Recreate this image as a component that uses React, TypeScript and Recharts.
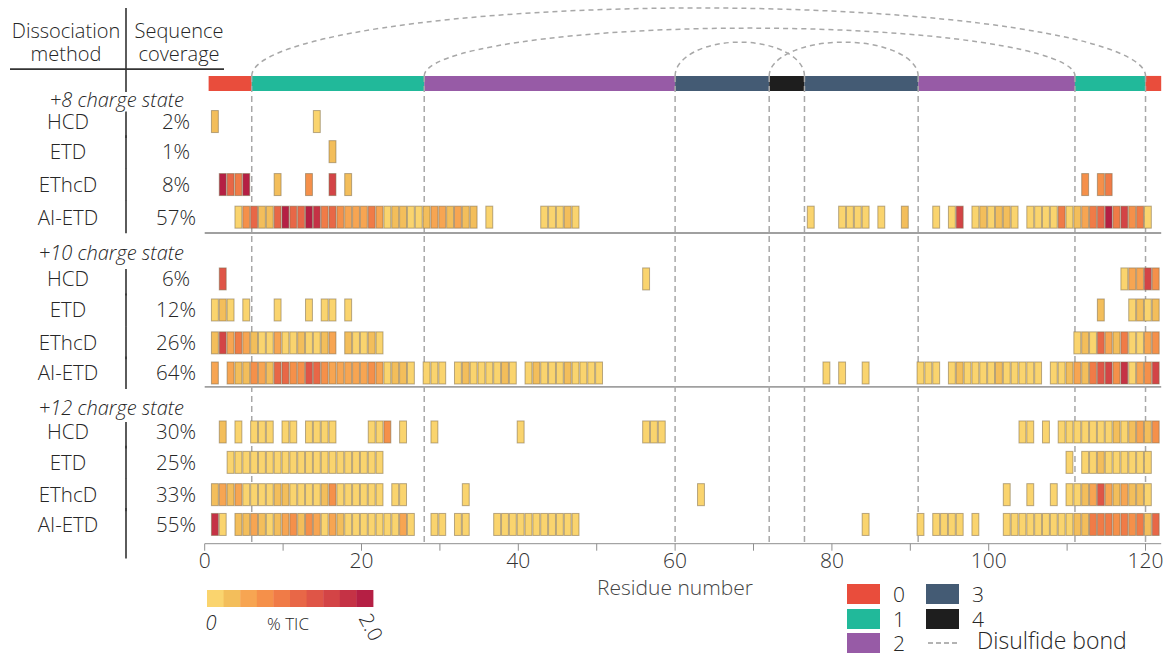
import React from 'react';
import { ComposedChart, XAxis, YAxis, Scatter, ReferenceLine, ReferenceArea, Legend } from 'recharts';

const FONT = '"Open Sans", "Noto Sans", sans-serif';
const INK = '#262626';
const WEIGHT = 300;

// %TIC colour steps, 0 -> 2.0
const HEAT = ['#FAD46E', '#F3BE5B', '#F7A552', '#F5904A', '#F07B47', '#E86747', '#DF5547', '#D34446', '#C53245', '#B51F44'];
const TIC_MAX = 2.0;

// disulfide-bond regions along the sequence (number of bonds 0-4)
const REGION_COLORS = ['#E94D3C', '#21B99A', '#975BA6', '#445B74', '#1E1E1E'];
const regions: [number, number, number][] = [
  [0.5, 6, 0], [6, 28, 1], [28, 60, 2], [60, 72, 3], [72, 76.5, 4],
  [76.5, 91, 3], [91, 111, 2], [111, 120, 1], [120, 122, 0],
];
const cysteines = [6, 28, 60, 72, 76.5, 91, 111, 120];
const bonds: [number, number][] = [[6, 120], [28, 111], [60, 76.5], [72, 91]];

const methods = ['HCD', 'ETD', 'EThcD', 'AI-ETD'];
const chargeStates = ['+8', '+10', '+12'];
const coverage = [
  ['2%', '1%', '8%', '57%'],
  ['6%', '12%', '26%', '64%'],
  ['30%', '25%', '33%', '55%'],
];
const xTicks = [0, 10, 20, 30, 40, 50, 60, 70, 80, 90, 100, 110, 120];

// fragments: [residue, %TIC]
const hcd8: [number, number][] = [[1, 0.3], [14, 0.1]];
const etd8: [number, number][] = [[16, 0.3]];
const ethcd8: [number, number][] = [[2, 1.9], [3, 1.1], [4, 0.9], [5, 1.9], [9, 0.3], [13, 0.7], [16, 1.5], [18, 0.3], [112, 0.7], [114, 0.7], [115, 0.9]];
const aietd8: [number, number][] = [
  [4, 0.1], [5, 0.7], [6, 1.1], [7, 0.3], [8, 0.3], [9, 1.1], [10, 1.9], [11, 1.1], [12, 1.1], [13, 1.9], [14, 1.7], [15, 0.9],
  [16, 1.1], [17, 0.7], [18, 0.5], [19, 0.5], [20, 0.5], [21, 0.9], [22, 0.5], [23, 0.1], [24, 0.3], [25, 0.3], [26, 0.1],
  [27, 0.1], [28, 0.3], [29, 0.5], [30, 0.5], [31, 0.3], [32, 0.5], [33, 0.3], [34, 0.3], [36, 0.1], [43, 0.1], [44, 0.1],
  [45, 0.1], [46, 0.3], [47, 0.1], [77, 0.1], [81, 0.1], [82, 0.1], [83, 0.1], [84, 0.1], [86, 0.1], [89, 0.3], [93, 0.1],
  [95, 0.1], [96, 1.5], [98, 0.1], [99, 0.3], [100, 0.1], [101, 0.3], [102, 0.3], [103, 0.1], [105, 0.1], [106, 0.1],
  [107, 0.1], [108, 0.1], [109, 0.9], [110, 0.1], [111, 0.3], [112, 0.5], [113, 0.9], [114, 1.1], [115, 1.9], [116, 0.9],
  [117, 1.5], [118, 0.7], [119, 0.9], [120, 0.1],
];
const hcd10: [number, number][] = [[2, 1.3], [56, 0.1], [117, 0.1], [118, 0.5], [119, 0.5], [120, 1.5], [121, 0.7]];
const etd10: [number, number][] = [
  [1, 0.1], [2, 0.3], [3, 0.1], [5, 0.1], [9, 0.1], [13, 0.1], [15, 0.1], [16, 0.1], [18, 0.1],
  [114, 0.3], [118, 0.1], [119, 0.3], [120, 0.1], [121, 0.3],
];
const ethcd10: [number, number][] = [
  [1, 0.3], [2, 1.5], [3, 0.5], [4, 0.9], [5, 0.5], [6, 0.3], [7, 0.1], [8, 0.1], [9, 0.5], [10, 0.1], [11, 0.1], [12, 0.3],
  [13, 0.1], [14, 0.1], [15, 0.3], [16, 0.5], [18, 0.3], [19, 0.1], [20, 0.1], [21, 0.3], [22, 0.1], [111, 0.1], [112, 0.3],
  [113, 0.1], [114, 1.1], [115, 0.5], [116, 0.3], [117, 0.9], [118, 0.1], [119, 0.1], [120, 0.5], [121, 0.7],
];
const aietd10: [number, number][] = [
  [1, 0.5], [3, 0.5], [4, 0.3], [5, 0.3], [6, 0.7], [7, 0.5], [8, 0.3], [9, 1.1], [10, 1.1], [11, 0.7], [12, 0.7], [13, 1.3],
  [14, 1.1], [15, 0.7], [16, 0.5], [17, 0.5], [18, 0.5], [19, 0.5], [20, 0.5], [21, 0.7], [22, 0.5], [23, 0.1], [24, 0.3],
  [25, 0.3], [26, 0.1], [28, 0.1], [29, 0.1], [30, 0.1], [32, 0.1], [33, 0.3], [34, 0.1], [35, 0.1], [36, 0.1], [37, 0.1],
  [38, 0.3], [39, 0.1], [41, 0.1], [42, 0.3], [43, 0.1], [44, 0.1], [45, 0.1], [46, 0.3], [47, 0.1], [48, 0.1], [49, 0.1],
  [50, 0.1], [79, 0.1], [81, 0.1], [84, 0.1], [91, 0.1], [92, 0.1], [93, 0.1], [95, 0.1], [96, 0.3], [97, 0.1], [98, 0.1],
  [99, 0.1], [100, 0.1], [101, 0.3], [102, 0.1], [103, 0.1], [104, 0.1], [105, 0.1], [106, 0.1], [108, 0.1], [109, 0.1],
  [110, 0.3], [111, 0.5], [112, 0.3], [113, 0.9], [114, 1.3], [115, 1.5], [116, 0.7], [117, 1.7], [118, 0.1], [119, 0.5],
  [120, 0.7], [121, 1.5],
];
const hcd12: [number, number][] = [
  [2, 0.3], [4, 0.1], [6, 0.1], [7, 0.1], [8, 0.1], [10, 0.1], [11, 0.1], [13, 0.1], [14, 0.1], [15, 0.1], [16, 0.1],
  [21, 0.1], [22, 0.1], [23, 0.7], [25, 0.1], [29, 0.1], [40, 0.1], [56, 0.1], [57, 0.1], [58, 0.1], [104, 0.1], [105, 0.1],
  [107, 0.1], [109, 0.1], [110, 0.1], [111, 0.1], [112, 0.1], [113, 0.1], [114, 0.1], [115, 0.1], [116, 0.3], [117, 0.1],
  [118, 0.3], [119, 0.5], [120, 0.3], [121, 0.7],
];
const etd12: [number, number][] = [
  [3, 0.1], [4, 0.1], [5, 0.1], [6, 0.1], [7, 0.1], [8, 0.1], [9, 0.1], [10, 0.1], [11, 0.1], [12, 0.1], [13, 0.1], [14, 0.1],
  [15, 0.1], [16, 0.1], [17, 0.1], [18, 0.1], [19, 0.1], [20, 0.1], [21, 0.1], [22, 0.1], [110, 0.1], [112, 0.1], [113, 0.1],
  [114, 0.3], [115, 0.1], [116, 0.1], [117, 0.1], [118, 0.1], [119, 0.1], [120, 0.1],
];
const ethcd12: [number, number][] = [
  [1, 0.3], [2, 0.5], [3, 0.3], [4, 0.5], [5, 0.1], [6, 0.1], [7, 0.1], [8, 0.1], [9, 0.3], [10, 0.3], [11, 0.1], [12, 0.1],
  [13, 0.1], [14, 0.1], [15, 0.3], [16, 0.7], [17, 0.1], [18, 0.1], [19, 0.1], [20, 0.1], [21, 0.1], [22, 0.1], [24, 0.1],
  [25, 0.1], [33, 0.1], [63, 0.1], [102, 0.1], [105, 0.1], [108, 0.1], [110, 0.1], [111, 0.1], [112, 0.3], [113, 0.5],
  [114, 1.3], [115, 0.5], [116, 0.3], [117, 0.5], [118, 0.3], [119, 0.3], [120, 0.1],
];
const aietd12: [number, number][] = [
  [1, 1.7], [2, 0.1], [4, 0.3], [5, 0.3], [6, 0.5], [7, 0.3], [8, 0.1], [9, 0.3], [10, 0.5], [11, 0.7], [12, 0.3], [13, 0.7],
  [14, 0.5], [15, 0.1], [16, 0.5], [17, 0.3], [18, 0.1], [19, 0.1], [20, 0.1], [21, 0.1], [22, 0.1], [23, 0.1], [24, 0.1],
  [25, 0.5], [26, 0.1], [29, 0.1], [30, 0.1], [32, 0.1], [33, 0.1], [37, 0.1], [38, 0.1], [39, 0.1], [40, 0.1], [41, 0.1],
  [42, 0.1], [43, 0.1], [44, 0.1], [45, 0.1], [46, 0.1], [47, 0.1], [84, 0.1], [91, 0.1], [93, 0.1], [94, 0.1], [95, 0.1],
  [96, 0.1], [98, 0.1], [102, 0.1], [103, 0.1], [104, 0.1], [105, 0.1], [106, 0.1], [107, 0.1], [108, 0.1], [109, 0.1],
  [110, 0.1], [111, 0.3], [112, 0.3], [113, 0.9], [114, 0.9], [115, 0.9], [116, 0.7], [117, 0.9], [118, 0.7], [119, 0.9],
  [120, 0.3], [121, 1.1],
];
const fragments = [
  [hcd8, etd8, ethcd8, aietd8],
  [hcd10, etd10, ethcd10, aietd10],
  [hcd12, etd12, ethcd12, aietd12],
];

// layout of the rows on the y axis (row units, top to bottom)
const ROW_Y = [[1, 1.97, 3.03, 4.08], [6.07, 7.07, 8.13, 9.1], [11, 11.98, 13.02, 13.98]];
const HEADER_Y = [0.31, 5.24, 10.23];
const SEP_Y = [4.59, 9.55];
const TABLE_HEAD_Y = -1.56;
const BAR_Y: [number, number] = [-0.47, 0.015];
const ARC_PEAK = [-2.66, -2.01, -1.56, -1.56];
const Y_TICKS = [TABLE_HEAD_Y, ...HEADER_Y, ...ROW_Y.flat()];

const heat = (tic: number) => HEAT[Math.max(0, Math.min(HEAT.length - 1, Math.floor((tic / TIC_MAX) * HEAT.length)))];

const FragmentCell = (p: any) => {
  const { cx, cy, payload } = p;
  if (cx == null || cy == null) return null;
  return (
    <rect x={cx - 1.1} y={cy - 11} width={6.9} height={22} fill={heat(payload.tic)}
      stroke="#7d6b4a" strokeOpacity={0.55} strokeWidth={1} />
  );
};

const near = (a: number, b: number) => Math.abs(a - b) < 1e-6;

const RowLabel = (p: any) => {
  const { y, payload } = p;
  const v = payload.value;
  const txt = { fontFamily: FONT, fontSize: 20.5, fill: INK, fontWeight: WEIGHT } as const;
  if (near(v, TABLE_HEAD_Y)) {
    return (
      <g>
        <text x={66} y={y - 11.5} dy="0.36em" textAnchor="middle" {...txt} fontSize={20}>Dissociation</text>
        <text x={66} y={y + 12} dy="0.36em" textAnchor="middle" {...txt} fontSize={20}>method</text>
        <text x={179} y={y - 11.5} dy="0.36em" textAnchor="middle" {...txt} fontSize={20}>Sequence</text>
        <text x={179} y={y + 12} dy="0.36em" textAnchor="middle" {...txt} fontSize={20}>coverage</text>
        <line x1={10} x2={224} y1={y + 27} y2={y + 27} stroke="#333" strokeWidth={1.6} />
        <line x1={126} x2={126} y1={y - 34} y2={y + 50} stroke="#333" strokeWidth={1.6} />
      </g>
    );
  }
  const h = HEADER_Y.findIndex((t) => near(t, v));
  if (h >= 0) {
    return (
      <text x={184} y={y} dy="0.36em" textAnchor="end" fontStyle="italic" {...txt} fontSize={20}>
        {chargeStates[h]} charge state
      </text>
    );
  }
  for (let g = 0; g < ROW_Y.length; g++) {
    const m = ROW_Y[g].findIndex((t) => near(t, v));
    if (m < 0) continue;
    const top = m === 0 ? 10 : 16.5;
    const bottom = m === 3 ? (g === ROW_Y.length - 1 ? 34 : 16) : 16.5;
    return (
      <g>
        <text x={68} y={y} dy="0.36em" textAnchor="middle" {...txt}>{methods[m]}</text>
        <text x={176} y={y} dy="0.36em" textAnchor="middle" {...txt}>{coverage[g][m]}</text>
        <line x1={126} x2={126} y1={y - top} y2={y + bottom} stroke="#333" strokeWidth={1.6} />
      </g>
    );
  }
  return null;
};

const LEGEND_TOP = 575;

const LegendArt = () => {
  const cw = 16.6;
  const txt = { fontFamily: FONT, fill: INK, fontWeight: WEIGHT } as const;
  const items = [
    { c: REGION_COLORS[0], l: '0', x: 847, y: 584 },
    { c: REGION_COLORS[1], l: '1', x: 847, y: 609 },
    { c: REGION_COLORS[2], l: '2', x: 847, y: 633 },
    { c: REGION_COLORS[3], l: '3', x: 926, y: 584 },
    { c: REGION_COLORS[4], l: '4', x: 926, y: 609 },
  ];
  return (
    <svg width={1164} height={653 - LEGEND_TOP} style={{ display: 'block', overflow: 'visible' }}>
      <g transform={`translate(0,${-LEGEND_TOP})`}>
        {HEAT.map((c, i) => (
          <rect key={i} x={207 + i * cw} y={590} width={cw + 0.4} height={17} fill={c} />
        ))}
        <text x={211} y={623} dy="0.36em" textAnchor="middle" fontStyle="italic" fontSize={20} {...txt}>0</text>
        <text x={288} y={624} dy="0.36em" textAnchor="middle" fontSize={17} {...txt}>% TIC</text>
        <text transform="translate(371,627) rotate(62)" dy="0.36em" textAnchor="middle" fontSize={20} {...txt}>
          {TIC_MAX.toFixed(1)}
        </text>
        {items.map((it) => (
          <g key={it.l}>
            <rect x={it.x} y={it.y} width={33} height={20} fill={it.c} />
            <text x={it.x + 46} y={it.y + 10} dy="0.36em" fontSize={21} {...txt}>{it.l}</text>
          </g>
        ))}
        <line x1={928} x2={960} y1={643} y2={643} stroke="#9a9a9a" strokeWidth={1.5} strokeDasharray="5 3" />
        <text x={977} y={641} dy="0.36em" fontSize={23} {...txt}>Disulfide bond</text>
      </g>
    </svg>
  );
};

export default function App() {
  return (
    <div style={{ position: 'absolute', left: 0, top: 0, width: 1164, height: 653, background: '#fff', fontFamily: FONT }}>
      <ComposedChart width={1164} height={653} margin={{ top: 3.6, right: 2.8, bottom: 59.3, left: 4.7 }}>
        <XAxis
          type="number"
          dataKey="r"
          domain={[0, 122]}
          allowDataOverflow
          ticks={xTicks}
          interval={0}
          tickFormatter={(v: number) => (v % 20 === 0 ? String(v) : '')}
          height={50}
          tickSize={7}
          stroke="#8f8f8f"
          tick={{ fontSize: 21, fill: '#333', fontFamily: FONT, fontWeight: WEIGHT }}
          label={{ value: 'Residue number', position: 'insideBottom', offset: -1, dx: -8, fill: '#444', fontSize: 21, fontFamily: FONT, fontWeight: WEIGHT }}
        />
        <YAxis
          type="number"
          dataKey="y"
          domain={[-2.8, 14.6]}
          allowDataOverflow
          reversed
          ticks={Y_TICKS}
          interval={0}
          tick={RowLabel}
          width={200}
          axisLine={false}
          tickLine={false}
        />
        {regions.map(([a, b, n], i) => (
          <ReferenceArea key={`reg${i}`} x1={a} x2={b} y1={BAR_Y[0]} y2={BAR_Y[1]} fill={REGION_COLORS[n]} fillOpacity={1} stroke="none" />
        ))}
        {SEP_Y.map((s, i) => (
          <ReferenceLine key={`sep${i}`} y={s} stroke="#a0a0a0" strokeWidth={1.8} />
        ))}
        {fragments.map((group, g) =>
          group.map((row, m) => (
            <Scatter
              key={`f${g}-${m}`}
              data={row.map(([r, tic]) => ({ r, y: ROW_Y[g][m], tic }))}
              shape={FragmentCell}
              isAnimationActive={false}
            />
          ))
        )}
        {cysteines.map((c, i) => (
          <ReferenceLine key={`cys${i}`} segment={[{ x: c, y: BAR_Y[0] }, { x: c, y: 14.6 }]}
            stroke="#a8a8a8" strokeWidth={1.5} strokeDasharray="6 4" />
        ))}
        {bonds.map(([a, b], i) => (
          <ReferenceLine
            key={`bond${i}`}
            segment={[{ x: a, y: BAR_Y[0] }, { x: b, y: ARC_PEAK[i] }]}
            shape={(p: any) => (
              <path
                d={`M${p.x1},${p.y1} A${(p.x2 - p.x1) / 2},${p.y1 - p.y2} 0 0 1 ${p.x2},${p.y1}`}
                fill="none"
                stroke="#a8a8a8"
                strokeWidth={1.5}
                strokeDasharray="5 4"
              />
            )}
          />
        ))}
        <Legend
          layout="horizontal"
          verticalAlign="middle"
          align="center"
          content={() => <LegendArt />}
          wrapperStyle={{ position: 'absolute', left: 0, top: LEGEND_TOP, width: 1164, height: 653 - LEGEND_TOP }}
        />
      </ComposedChart>
    </div>
  );
}
